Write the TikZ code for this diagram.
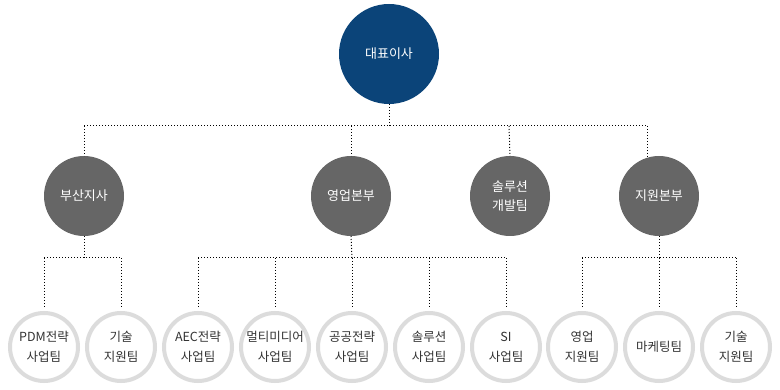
\documentclass[tikz,border=0pt]{standalone}
\usepackage{fontspec}
\setmainfont{Noto Sans CJK KR}
\definecolor{navy}{HTML}{0B4479}
\definecolor{midgray}{HTML}{666666}
\definecolor{ringgray}{HTML}{DCDCDC}
\definecolor{txtgray}{HTML}{333333}
\tikzset{
  topnode/.style={circle, fill=navy, minimum size=100pt, inner sep=0pt, outer sep=0pt, text=white, font=\fontsize{13}{19}\selectfont},
  midnode/.style={circle, fill=midgray, minimum size=80pt, inner sep=0pt, outer sep=0pt, text=white, align=center, font=\fontsize{13}{19}\selectfont},
  leafnode/.style={circle, draw=ringgray, line width=4pt, fill=white, minimum size=68pt, inner sep=0pt, text=txtgray, align=center, font=\fontsize{12.5}{20}\selectfont},
  dotline/.style={line width=1pt, dash pattern=on 1pt off 2pt, black}
}
\begin{document}
\begin{tikzpicture}[x=1pt,y=-1pt]
\useasboundingbox (0,0) rectangle (780,390);
% nodes
\node[topnode] (top) at (389,54) {대표이사};
\node[midnode] (m1) at (84,196) {부산지사};
\node[midnode] (m2) at (351,196) {영업본부};
\node[midnode] (m3) at (510,196) {솔루션\\개발팀};
\node[midnode] (m4) at (659,196) {지원본부};
\node[leafnode] (b1) at (44,347) {PDM전략\\사업팀};
\node[leafnode] (b2) at (121,347) {기술\\지원팀};
\node[leafnode] (b3) at (198,347) {AEC전략\\사업팀};
\node[leafnode] (b4) at (275,347) {멀티미디어\\사업팀};
\node[leafnode] (b5) at (352,347) {공공전략\\사업팀};
\node[leafnode] (b6) at (429,347) {솔루션\\사업팀};
\node[leafnode] (b7) at (506,347) {SI\\사업팀};
\node[leafnode] (b8) at (582,347) {영업\\지원팀};
\node[leafnode] (b9) at (659,347) {마케팅팀};
\node[leafnode] (b10) at (736,347) {기술\\지원팀};
% junction coordinates
\coordinate (t0) at (389,126);
\coordinate (t1) at (84,126);
\coordinate (t2) at (351,126);
\coordinate (t3) at (509,126);
\coordinate (t4) at (647,126);
\coordinate (t4e) at (647,158);
\coordinate (s1) at (84,258);
\coordinate (s1a) at (44,258);
\coordinate (s1b) at (121,258);
\coordinate (s2) at (352,258);
\coordinate (s2a) at (198,258);
\coordinate (s2b) at (506,258);
\coordinate (s4) at (659,258);
\coordinate (s4a) at (582,258);
\coordinate (s4b) at (736,258);
% top level
\draw[dotline] (top.south) -- (t0);
\draw[dotline] (t1) -- (t4);
\draw[dotline] (t1) -- (m1.north);
\draw[dotline] (t2) -- (m2.north);
\draw[dotline] (t3) -- (m3.north);
\draw[dotline] (t4) -- (t4e);
% 부산지사
\draw[dotline] (m1.south) -- (s1);
\draw[dotline] (s1a) -- (s1b);
\draw[dotline, shorten >=4pt] (s1a) -- (b1.north);
\draw[dotline, shorten >=4pt] (s1b) -- (b2.north);
% 영업본부
\draw[dotline] (m2.south) -- (s2);
\draw[dotline] (s2a) -- (s2b);
\draw[dotline, shorten >=4pt] (s2a) -- (b3.north);
\draw[dotline, shorten >=4pt] (s2a -| b4) -- (b4.north);
\draw[dotline, shorten >=4pt] (s2) -- (b5.north);
\draw[dotline, shorten >=4pt] (s2a -| b6) -- (b6.north);
\draw[dotline, shorten >=4pt] (s2b) -- (b7.north);
% 지원본부
\draw[dotline] (m4.south) -- (s4);
\draw[dotline] (s4a) -- (s4b);
\draw[dotline, shorten >=4pt] (s4a) -- (b8.north);
\draw[dotline, shorten >=4pt] (s4) -- (b9.north);
\draw[dotline, shorten >=4pt] (s4b) -- (b10.north);
\end{tikzpicture}
\end{document}
